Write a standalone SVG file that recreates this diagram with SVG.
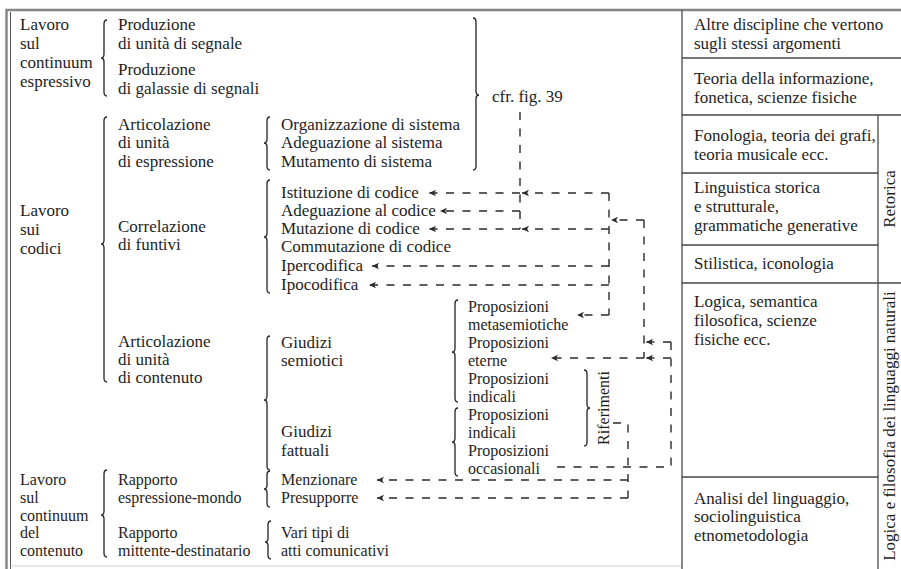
<svg xmlns="http://www.w3.org/2000/svg" width="901" height="569" viewBox="0 0 901 569" font-family="'Liberation Serif','DejaVu Serif',serif">
<defs>
<marker id="ah" markerUnits="userSpaceOnUse" markerWidth="10" markerHeight="10" refX="7" refY="0" viewBox="-1 -5 10 10" orient="auto">
<path d="M0,-3.2 L7,0 L0,3.2 L1.8,0 Z" fill="#2a2a2a"/>
</marker>
<style>
text{font-family:"Liberation Serif","DejaVu Serif",serif;font-size:17px;fill:#1e1e1e}
.sm text{font-size:16px}
.br{fill:none;stroke:#222;stroke-width:1.3}
.rule{stroke:#4a4a4a;stroke-width:1.3;fill:none}
.dl{fill:none;stroke:#2a2a2a;stroke-width:1.4;stroke-dasharray:8 8.5}
.da{fill:none;stroke:#2a2a2a;stroke-width:1.4;stroke-dasharray:8 8.5;marker-end:url(#ah)}
</style>
</defs>
<rect width="901" height="569" fill="#fff"/>
<g id="frame">
<path d="M6.5,569 V10 H901" fill="none" stroke="#858585" stroke-width="2.4"/>
<path d="M10.5,12 V569" fill="none" stroke="#555" stroke-width="1"/>
<path d="M10.5,566 H682" fill="none" stroke="#cfcfcf" stroke-width="1"/>
</g>
<g id="table">
<path class="rule" d="M682,10 V569 M878,115 V569 M682,58 H901 M682,115 H901 M682,173 H878 M682,245 H878 M682,283 H901 M682,477 H878"/>
</g>
<g id="braces">
<path class="br" d="M107,20 Q104,20 104,24 L104,54 Q104,58 101,58 Q104,58 104,62 L104,92 Q104,96 107,96"/>
<path class="br" d="M107,117 Q104,117 104,121 L104,240 Q104,244 101,244 Q104,244 104,248 L104,378 Q104,382 107,382"/>
<path class="br" d="M270,117 Q267,117 267,121 L267,139 Q267,143 264,143 Q267,143 267,147 L267,166 Q267,170 270,170"/>
<path class="br" d="M270,180 Q267,180 267,184 L267,233 Q267,237 264,237 Q267,237 267,241 L267,289 Q267,293 270,293"/>
<path class="br" d="M270,336 Q267,336 267,340 L267,396 Q267,400 264,400 Q267,400 267,404 L267,466 Q267,470 270,470"/>
<path class="br" d="M458,300 Q455,300 455,304 L455,348 Q455,352 452,352 Q455,352 455,356 L455,398 Q455,402 458,402"/>
<path class="br" d="M458,408 Q455,408 455,412 L455,438 Q455,442 452,442 Q455,442 455,446 L455,472 Q455,476 458,476"/>
<path class="br" d="M584,370 Q587,370 587,374 L587,404 Q587,408 590,408 Q587,408 587,412 L587,442 Q587,446 584,446"/>
<path class="br" d="M473,18 Q476,18 476,22 L476,91 Q476,95 479,95 Q476,95 476,99 L476,166 Q476,170 473,170"/>
<path class="br" d="M107,470 Q104,470 104,474 L104,511 Q104,515 101,515 Q104,515 104,519 L104,553 Q104,557 107,557"/>
<path class="br" d="M270,471 Q267,471 267,475 L267,485 Q267,489 264,489 Q267,489 267,493 L267,503 Q267,507 270,507"/>
<path class="br" d="M271,521 Q268,521 268,525 L268,538 Q268,542 265,542 Q268,542 268,546 L268,555 Q268,559 271,559"/>
</g>
<g id="connectors">
<path class="dl" d="M520,112 V229"/>
<path class="da" d="M520,193 H429"/>
<path class="da" d="M520,211 H440"/>
<path class="da" d="M520,229 H429"/>
<path class="dl" d="M609,193 V315"/>
<path class="da" d="M609,193 H522"/>
<path class="da" d="M609,229 H522"/>
<path class="da" d="M609,266 H372"/>
<path class="da" d="M609,285 H369"/>
<path class="da" d="M609,315 H577"/>
<path class="dl" d="M644,220 V358"/>
<path class="da" d="M644,220 H611"/>
<path class="da" d="M644,358 H551"/>
<path class="dl" d="M671,342 V467 H555"/>
<path class="da" d="M671,342 H646"/>
<path class="da" d="M671,358 H646"/>
<path class="dl" d="M613,423 H628 V498"/>
<path class="da" d="M628,480 H377"/>
<path class="da" d="M628,498 H377"/>
</g>
<g id="lavoro-espressivo"><text x="20" y="30">Lavoro</text><text x="20" y="49">sul</text><text x="20" y="68">continuum</text><text x="20" y="87">espressivo</text></g>
<g id="produzione-unita"><text x="118" y="30">Produzione</text><text x="118" y="49">di unità di segnale</text></g>
<g id="produzione-galassie"><text x="118" y="75">Produzione</text><text x="118" y="94">di galassie di segnali</text></g>
<g id="cfr"><text x="492" y="102">cfr. fig. 39</text></g>
<g id="lavoro-codici"><text x="20" y="216">Lavoro</text><text x="20" y="235">sui</text><text x="20" y="254">codici</text></g>
<g id="articolazione-espressione"><text x="118" y="130">Articolazione</text><text x="118" y="148">di unità</text><text x="118" y="167">di espressione</text></g>
<g id="sistema"><text x="281" y="130">Organizzazione di sistema</text><text x="281" y="148">Adeguazione al sistema</text><text x="281" y="167">Mutamento di sistema</text></g>
<g id="correlazione"><text x="118" y="232">Correlazione</text><text x="118" y="250">di funtivi</text></g>
<g id="codice"><text x="281" y="198">Istituzione di codice</text><text x="281" y="216">Adeguazione al codice</text><text x="281" y="234">Mutazione di codice</text><text x="281" y="252">Commutazione di codice</text><text x="281" y="271">Ipercodifica</text><text x="281" y="290">Ipocodifica</text></g>
<g id="articolazione-contenuto"><text x="118" y="347">Articolazione</text><text x="118" y="365">di unità</text><text x="118" y="383">di contenuto</text></g>
<g id="giudizi-semiotici"><text x="281" y="348">Giudizi</text><text x="281" y="366">semiotici</text></g>
<g id="giudizi-fattuali"><text x="281" y="437">Giudizi</text><text x="281" y="456">fattuali</text></g>
<g id="proposizioni-semiotiche" class="sm"><text x="468" y="312">Proposizioni</text><text x="468" y="330">metasemiotiche</text><text x="468" y="348">Proposizioni</text><text x="468" y="366">eterne</text><text x="468" y="384">Proposizioni</text><text x="468" y="402">indicali</text></g>
<g id="proposizioni-fattuali" class="sm"><text x="468" y="420">Proposizioni</text><text x="468" y="438">indicali</text><text x="468" y="456">Proposizioni</text><text x="468" y="474">occasionali</text></g>
<g id="riferimenti"><text transform="translate(609,408) rotate(-90)" text-anchor="middle" style="font-size:16px">Riferimenti</text></g>
<g id="lavoro-contenuto" class="sm"><text x="20" y="485">Lavoro</text><text x="20" y="503">sul</text><text x="20" y="520.5">continuum</text><text x="20" y="538">del</text><text x="20" y="556">contenuto</text></g>
<g id="rapporto-mondo" class="sm"><text x="118" y="485">Rapporto</text><text x="118" y="503">espressione-mondo</text></g>
<g id="menzionare" class="sm"><text x="281" y="485">Menzionare</text><text x="281" y="503">Presupporre</text></g>
<g id="rapporto-mittente" class="sm"><text x="118" y="538">Rapporto</text><text x="118" y="556">mittente-destinatario</text></g>
<g id="atti" class="sm"><text x="281" y="538">Vari tipi di</text><text x="281" y="556">atti comunicativi</text></g>
<g id="altre-discipline"><text x="694" y="30">Altre discipline che vertono</text><text x="694" y="49">sugli stessi argomenti</text></g>
<g id="teoria-informazione"><text x="694" y="84">Teoria della informazione,</text><text x="694" y="103">fonetica, scienze fisiche</text></g>
<g id="fonologia"><text x="694" y="141">Fonologia, teoria dei grafi,</text><text x="694" y="160">teoria musicale ecc.</text></g>
<g id="linguistica"><text x="694" y="193">Linguistica storica</text><text x="694" y="212">e strutturale,</text><text x="694" y="231">grammatiche generative</text></g>
<g id="stilistica"><text x="694" y="269">Stilistica, iconologia</text></g>
<g id="logica"><text x="694" y="307">Logica, semantica</text><text x="694" y="326">filosofica, scienze</text><text x="694" y="345">fisiche ecc.</text></g>
<g id="analisi"><text x="694" y="504">Analisi del linguaggio,</text><text x="694" y="522">sociolinguistica</text><text x="694" y="541">etnometodologia</text></g>
<g id="retorica"><text transform="translate(895,199) rotate(-90)" text-anchor="middle">Retorica</text></g>
<g id="logica-filosofia"><text transform="translate(895,426) rotate(-90)" text-anchor="middle">Logica e filosofia dei linguaggi naturali</text></g>
</svg>
